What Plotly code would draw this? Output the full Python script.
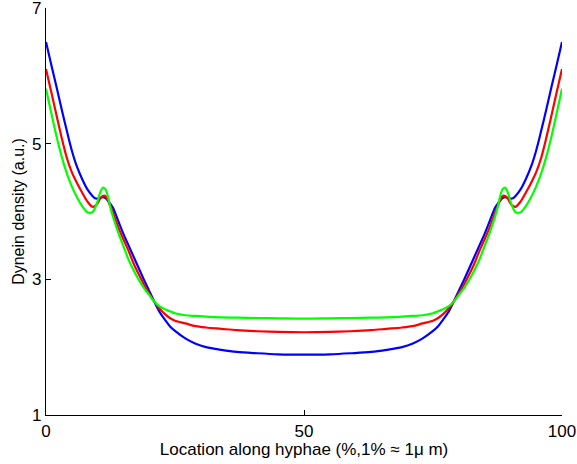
import plotly.graph_objects as go

# Location along hyphae (%) — shared sample positions
loc = [0, 1, 2, 3, 4, 5, 6, 7, 8, 9, 9.5, 10, 10.5, 11, 11.5, 12, 12.5, 13, 14, 15, 16, 17, 18, 19, 20, 21, 22, 23, 24, 25,
       27, 29, 31, 34, 37, 41, 45, 50, 55, 59, 63, 66, 69, 71, 73,
       75, 76, 77, 78, 79, 80, 81, 82, 83, 84, 85, 86, 87, 87.5, 88, 88.5, 89, 89.5, 90, 90.5, 91, 92, 93, 94, 95, 96, 97, 98, 99, 100]

# Dynein density (a.u.)
blue = [6.50, 6.17, 5.85, 5.52, 5.20, 4.90, 4.66, 4.48, 4.33, 4.23, 4.195, 4.19, 4.20, 4.21, 4.20, 4.16, 4.11, 4.05, 3.86, 3.67, 3.50, 3.33, 3.16, 2.99, 2.83, 2.67, 2.52, 2.41, 2.31, 2.24,
        2.13, 2.05, 2.00, 1.96, 1.93, 1.91, 1.895, 1.89, 1.895, 1.91, 1.93, 1.96, 2.00, 2.05, 2.13,
        2.24, 2.31, 2.41, 2.52, 2.67, 2.83, 2.99, 3.16, 3.33, 3.50, 3.67, 3.86, 4.05, 4.11, 4.16, 4.20, 4.21, 4.20, 4.19, 4.195, 4.23, 4.33, 4.48, 4.66, 4.90, 5.20, 5.52, 5.85, 6.17, 6.50]

red = [6.10, 5.77, 5.43, 5.10, 4.80, 4.58, 4.42, 4.28, 4.15, 4.07, 4.08, 4.12, 4.19, 4.23, 4.23, 4.16, 4.07, 3.98, 3.77, 3.59, 3.42, 3.23, 3.07, 2.92, 2.79, 2.67, 2.57, 2.49, 2.43, 2.39,
       2.35, 2.31, 2.29, 2.27, 2.25, 2.235, 2.225, 2.22, 2.225, 2.235, 2.25, 2.27, 2.29, 2.31, 2.35,
       2.39, 2.43, 2.49, 2.57, 2.67, 2.79, 2.92, 3.07, 3.23, 3.42, 3.59, 3.77, 3.98, 4.07, 4.16, 4.23, 4.23, 4.19, 4.12, 4.08, 4.07, 4.15, 4.28, 4.42, 4.58, 4.80, 5.10, 5.43, 5.77, 6.10]

green = [5.81, 5.46, 5.12, 4.82, 4.57, 4.37, 4.21, 4.08, 3.99, 3.99, 4.05, 4.15, 4.28, 4.35, 4.33, 4.22, 4.05, 3.92, 3.69, 3.49, 3.29, 3.13, 2.99, 2.87, 2.77, 2.67, 2.60, 2.56, 2.53, 2.50,
         2.47, 2.46, 2.45, 2.44, 2.435, 2.43, 2.425, 2.42, 2.425, 2.43, 2.435, 2.44, 2.45, 2.46, 2.47,
         2.50, 2.53, 2.56, 2.60, 2.67, 2.77, 2.87, 2.99, 3.13, 3.29, 3.49, 3.69, 3.92, 4.05, 4.22, 4.33, 4.35, 4.28, 4.15, 4.05, 3.99, 3.99, 4.08, 4.21, 4.37, 4.57, 4.82, 5.12, 5.46, 5.81]

x_ticks = [0, 50, 100]
y_ticks = [1, 3, 5, 7]

FONT = "Liberation Sans, Arial, sans-serif"

fig = go.Figure()
for ys, col in [(blue, "#0000ff"), (red, "#ff0000"), (green, "#00ff00")]:
    fig.add_trace(go.Scatter(x=loc, y=ys, mode="lines",
                             line=dict(color=col, width=2.2, shape="spline", smoothing=0.9),
                             showlegend=False, hoverinfo="skip"))

axis_common = dict(showline=True, linecolor="black", linewidth=1.2, ticks="inside", ticklen=5,
                   tickcolor="black", tickwidth=1.2, showgrid=False, zeroline=False,
                   tickfont=dict(size=17), automargin=False, ticklabeloverflow="allow")

fig.update_layout(
    width=577, height=464,
    margin=dict(l=46, r=15, t=8, b=49, autoexpand=False),
    paper_bgcolor="white", plot_bgcolor="white",
    font=dict(family=FONT, size=16, color="black"),
    xaxis=dict(range=[0, 100], tickvals=x_ticks, ticktext=[str(v) for v in x_ticks],
               title=dict(text="Location along hyphae (%,1% ≈ 1μ m)", standoff=0,
                          font=dict(size=17)), **axis_common),
    yaxis=dict(range=[1, 7], tickvals=y_ticks, ticktext=[str(v) for v in y_ticks],
               title=dict(text="Dynein density (a.u.)", standoff=3, font=dict(size=16)),
               **axis_common),
)

fig.write_html("out.html", config={"displayModeBar": False},
               post_script="document.body.style.margin='0';document.body.style.overflow='hidden';")
